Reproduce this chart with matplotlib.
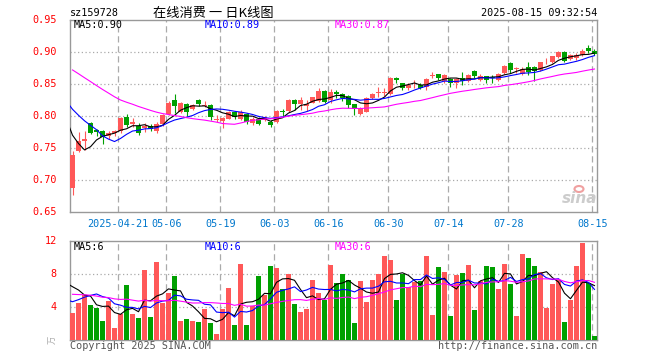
import numpy as np
import pandas as pd
import matplotlib
matplotlib.use('Agg')
import matplotlib.pyplot as plt

plt.rcParams['font.family'] = ['DejaVu Sans Mono', 'Noto Sans CJK SC']

# 日K数据
open_ = [0.687, 0.745, 0.761, 0.789, 0.778, 0.776, 0.768, 0.774, 0.776, 0.799,
         0.788, 0.784, 0.782, 0.784, 0.776, 0.787, 0.803, 0.825, 0.806, 0.818,
         0.811, 0.825, 0.816, 0.817, 0.793, 0.792, 0.796, 0.807, 0.796, 0.803,
         0.789, 0.795, 0.794, 0.791, 0.790, 0.808, 0.808, 0.825, 0.819, 0.815,
         0.821, 0.823, 0.839, 0.825, 0.837, 0.834, 0.832, 0.818, 0.803, 0.807,
         0.828, 0.836, 0.836, 0.834, 0.860, 0.851, 0.844, 0.848, 0.849, 0.846,
         0.863, 0.865, 0.854, 0.858, 0.852, 0.859, 0.854, 0.870, 0.857, 0.863,
         0.861, 0.857, 0.867, 0.883, 0.873, 0.8655, 0.877, 0.877, 0.872, 0.887,
         0.884, 0.892, 0.900, 0.8885, 0.890, 0.896, 0.907, 0.902]
high = [0.746, 0.775, 0.776, 0.790, 0.779, 0.778, 0.777, 0.778, 0.799, 0.803,
        0.797, 0.789, 0.789, 0.787, 0.790, 0.803, 0.823, 0.834, 0.822, 0.820,
        0.819, 0.827, 0.823, 0.818, 0.802, 0.799, 0.808, 0.808, 0.810, 0.804,
        0.798, 0.798, 0.800, 0.793, 0.809, 0.811, 0.826, 0.826, 0.830, 0.825,
        0.830, 0.843, 0.841, 0.842, 0.840, 0.836, 0.833, 0.819, 0.814, 0.829,
        0.836, 0.845, 0.843, 0.861, 0.861, 0.852, 0.851, 0.857, 0.851, 0.860,
        0.868, 0.866, 0.865, 0.860, 0.860, 0.868, 0.865, 0.872, 0.866, 0.863,
        0.8635, 0.867, 0.879, 0.885, 0.876, 0.877, 0.885, 0.878, 0.885, 0.890,
        0.894, 0.901, 0.901, 0.897, 0.898, 0.904, 0.911, 0.904]
low = [0.677, 0.744, 0.747, 0.772, 0.769, 0.757, 0.764, 0.768, 0.773, 0.783,
       0.783, 0.770, 0.775, 0.777, 0.773, 0.785, 0.801, 0.805, 0.804, 0.800,
       0.809, 0.816, 0.814, 0.794, 0.790, 0.782, 0.795, 0.796, 0.794, 0.788,
       0.786, 0.786, 0.792, 0.7835, 0.789, 0.800, 0.807, 0.810, 0.810, 0.808,
       0.820, 0.822, 0.820, 0.820, 0.828, 0.823, 0.812, 0.802, 0.802, 0.806,
       0.827, 0.830, 0.831, 0.833, 0.851, 0.840, 0.840, 0.843, 0.842, 0.840,
       0.860, 0.857, 0.852, 0.846, 0.844, 0.849, 0.853, 0.859, 0.855, 0.852,
       0.852, 0.855, 0.865, 0.867, 0.867, 0.864, 0.864, 0.854, 0.871, 0.881,
       0.883, 0.890, 0.885, 0.887, 0.888, 0.894, 0.899, 0.896]
close = [0.739, 0.761, 0.764, 0.774, 0.775, 0.767, 0.774, 0.776, 0.797, 0.786,
         0.791, 0.774, 0.784, 0.780, 0.787, 0.802, 0.821, 0.815, 0.820, 0.807,
         0.817, 0.818, 0.817, 0.798, 0.795, 0.797, 0.807, 0.798, 0.807, 0.791,
         0.796, 0.788, 0.798, 0.786, 0.808, 0.806, 0.825, 0.818, 0.825, 0.818,
         0.829, 0.839, 0.822, 0.837, 0.834, 0.828, 0.817, 0.811, 0.812, 0.828,
         0.834, 0.837, 0.837, 0.860, 0.857, 0.843, 0.849, 0.849, 0.844, 0.858,
         0.864, 0.859, 0.8635, 0.852, 0.858, 0.854, 0.8635, 0.862, 0.863, 0.857,
         0.859, 0.8655, 0.8775, 0.872, 0.875, 0.874, 0.868, 0.870, 0.884, 0.888,
         0.893, 0.900, 0.8865, 0.895, 0.896, 0.902, 0.902, 0.897]
volume = [3.3, 4.5, 5.4, 4.24, 3.9, 2.3, 4.7, 1.5, 3.15, 6.67,
          3.15, 2.67, 8.48, 2.8, 9.5, 4.5, 5.7, 7.76, 2.3, 2.55,
          2.3, 2.2, 3.76, 2.06, 0.73, 3.76, 6.3, 1.8, 9.2, 1.8,
          4.1, 7.76, 5.4, 8.97, 8.73, 6.18, 7.96, 4.36, 3.4, 3.76,
          7.27, 5.7, 4.85, 9.1, 6.9, 8.0, 7.27, 2.06, 7.15, 4.6,
          7.27, 8.0, 10.2, 9.7, 4.85, 8.0, 6.42, 7.03, 7.15, 10.2,
          3.03, 8.85, 8.24, 2.9, 7.88, 8.12, 9.1, 3.64, 7.15, 8.97,
          8.9, 6.18, 9.2, 6.79, 2.9, 10.4, 9.9, 8.97, 8.24, 3.88,
          6.79, 7.27, 2.2, 4.85, 8.97, 11.76, 6.9, 0.48]
# 窗口之前的收盘价/成交量, 只用来算均线起点
prev_close = [0.940, 0.950, 0.955, 0.960, 0.950, 0.945, 0.950, 0.947,
              0.890, 0.885, 0.880, 0.875, 0.872, 0.870,
              0.868, 0.866, 0.865, 0.862, 0.862, 0.862,
              0.855, 0.850, 0.845, 0.843, 0.862,
              0.826, 0.814, 0.749, 0.722]
prev_vol = [5.5, 6.2, 5.8, 7.0, 6.5, 5.9, 6.3, 5.2, 5.6, 6.8,
            6.1, 5.4, 5.9, 6.6, 6.0, 5.7, 6.2, 5.5, 6.0, 5.6,
            2.0, 2.4, 2.1, 2.14, 5.46, 6.5, 8.45, 4.85, 9.2]

tick_idx = [8, 16, 25, 34, 43, 53, 63, 73, 87]
tick_lab = ['2025-04-21', '05-06', '05-19', '06-03', '06-16', '06-30', '07-14', '07-28', '08-15']

RED = '#ff5858'
GREEN = '#00a000'
GRID = '#aaaaaa'
W, H = 660, 360

n = len(close)
x = np.arange(n)
xa = np.arange(-len(prev_close), n)
cs = pd.Series(prev_close + close)
vs = pd.Series(prev_vol + volume)
ma = {k: cs.rolling(k).mean().values for k in (5, 10, 30)}
vma = {k: vs.rolling(k).mean().values for k in (5, 10, 30)}
ma_col = {5: 'black', 10: '#0000ff', 30: '#ff00ff'}

fig = plt.figure(figsize=(6.6, 3.6), dpi=100)
ax = fig.add_axes([70 / W, 1 - 212 / H, 527 / W, 192 / H])
axv = fig.add_axes([70 / W, 1 - 340 / H, 527 / W, 99 / H])

colors = [RED if c >= o else GREEN for o, c in zip(open_, close)]
o = np.array(open_); c = np.array(close)
body_lo = np.minimum(o, c)
body_h = np.maximum(np.abs(c - o), 0.0012)
ax.vlines(x, low, high, colors=colors, linewidth=0.8, zorder=3)
ax.bar(x, body_h, bottom=body_lo, width=0.8, color=colors, linewidth=0, zorder=4)
for k in (5, 10, 30):
    ax.plot(xa, ma[k], color=ma_col[k], linewidth=0.8, zorder=5)

axv.bar(x, volume, width=0.8, color=colors, linewidth=0, zorder=3)
for k in (5, 10, 30):
    axv.plot(xa, vma[k], color=ma_col[k], linewidth=0.8, zorder=5)

for a in (ax, axv):
    a.set_xlim(-0.42, 87.42)
    for t in tick_idx:
        a.axvline(t - 0.37, color=GRID, linewidth=0.9, linestyle=(0, (5, 3)), zorder=1)
    for s in a.spines.values():
        s.set_color('#999999')
        s.set_linewidth(1.0)
    a.set_xticks([])
    a.set_yticks([])

ax.set_ylim(0.65, 0.95)
for yv in [0.70, 0.75, 0.80, 0.85, 0.90]:
    ax.axhline(yv, color=GRID, linewidth=0.9, linestyle=(0, (1, 2)), zorder=1)
for yv in np.arange(0.65, 0.951, 0.05):
    ax.text(-0.025, yv, '%.2f' % yv, transform=ax.get_yaxis_transform(), ha='right', va='center',
            color='#ff0000', fontsize=7.3)
for t, lab in zip(tick_idx, tick_lab):
    ax.text(t - 0.37, -0.035, lab, transform=ax.get_xaxis_transform(), ha='center', va='top',
            color='#0077cc', fontsize=7.3)

axv.set_ylim(0, 12)
for yv in [4, 8]:
    axv.axhline(yv, color=GRID, linewidth=0.9, linestyle=(0, (1, 2)), zorder=1)
for yv in [4, 8, 12]:
    axv.text(-0.025, yv, str(yv), transform=axv.get_yaxis_transform(), ha='right', va='center',
             color='#ff0000', fontsize=7.3)
axv.text(-0.025, 0, '万', transform=axv.get_yaxis_transform(), ha='right', va='center',
         color='#aaaaaa', fontsize=6, rotation=90, family=['Noto Sans CJK SC'])


def ftext(px, py, s, **kw):
    fig.text(px / W, 1 - py / H, s, va='center', **kw)


ftext(70, 13, 'sz159728', fontsize=7.3, color='black')
ftext(213, 13, '在线消费 一 日K线图', fontsize=9.5, color='black', ha='center',
      family=['Noto Sans CJK SC', 'DejaVu Sans'])
ftext(597, 13, '2025-08-15 09:32:54', fontsize=7.3, color='black', ha='right')

# 均线数值标签, 新浪图取整数部分
ftext(74, 25, 'MA5:%.2f' % ma[5][-1], fontsize=7.3, color=ma_col[5])
ftext(205, 25, 'MA10:%.2f' % ma[10][-1], fontsize=7.3, color=ma_col[10])
ftext(335, 25, 'MA30:%.2f' % ma[30][-1], fontsize=7.3, color=ma_col[30])
ftext(74, 247, 'MA5:%d' % int(vma[5][-1]), fontsize=7.3, color=ma_col[5])
ftext(205, 247, 'MA10:%d' % int(vma[10][-1]), fontsize=7.3, color=ma_col[10])
ftext(335, 247, 'MA30:%d' % int(vma[30][-1]), fontsize=7.3, color=ma_col[30])

ftext(70, 346, 'Copyright 2025 SINA.COM', fontsize=7.3, color='#555555')
ftext(597, 346, 'http://finance.sina.com.cn', fontsize=7.3, color='#555555', ha='right')

# sina 水印
ftext(580, 198, 'sina', fontsize=11, color='#cccccc', ha='center', fontweight='bold',
      style='italic', family=['DejaVu Sans'])
fig.patches.append(matplotlib.patches.Ellipse((579 / W, 1 - 189 / H), 9 / W, 6 / H,
                                              transform=fig.transFigure, facecolor='none',
                                              edgecolor='#f0a0a0', linewidth=1.5))

fig.savefig('out.png', dpi=100, facecolor='white')
